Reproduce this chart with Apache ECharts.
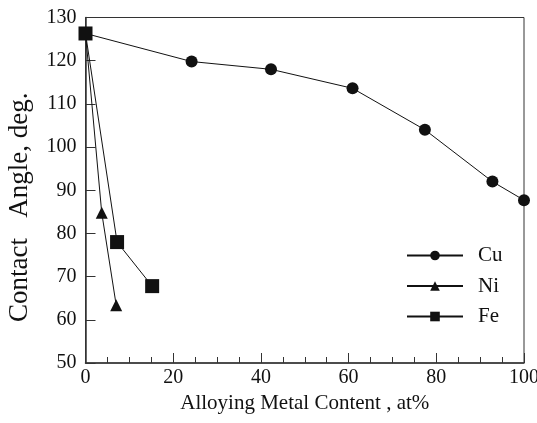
<!DOCTYPE html>
<html><head><meta charset="utf-8">
<script src="https://cdn.jsdelivr.net/npm/echarts@6/dist/echarts.min.js"></script>
<style>html,body{margin:0;padding:0;background:#fff}#c{width:537px;height:423px}</style>
</head><body><div id="c"></div>
<script>
const cuX = [0, 24.2, 42.3, 60.9, 77.4, 92.8, 100];
const cuY = [126.3, 119.8, 118.0, 113.6, 104.0, 92.0, 87.7];
const niX = [0, 3.7, 7.0];
const niY = [126.3, 84.8, 63.4];
const feX = [0, 7.2, 15.2];
const feY = [126.3, 78.0, 67.8];
const xTicks = [0, 20, 40, 60, 80, 100];
const yTicks = [50, 60, 70, 80, 90, 100, 110, 120, 130];

const font = '"Liberation Serif", "Times New Roman", serif';
const ink = '#111';
function pairs(xs, ys){ return xs.map((x,i)=>[x, ys[i]]); }

const chart = echarts.init(document.getElementById('c'), null, {renderer:'canvas'});
chart.setOption({
  animation: false,
  backgroundColor: '#fff',
  grid: {left: 85.5, right: 13, top: 17.5, bottom: 60, show: true, borderColor: '#333', borderWidth: 1,
         containLabel: false, outerBoundsMode: 'none'},
  xAxis: {
    type: 'value', min: xTicks[0], max: xTicks[xTicks.length-1], interval: 20,
    name: 'Alloying Metal Content , at%', nameLocation: 'middle', nameGap: 36,
    nameTextStyle: {fontFamily: font, fontSize: 21, color: ink, verticalAlign: 'middle'},
    axisLine: {show: true, lineStyle: {color: '#333', width: 1.5}},
    axisTick: {show: true, inside: true, length: 10, lineStyle: {color: '#333'}},
    minorTick: {show: true, splitNumber: 4, length: 6, lineStyle: {color: '#333'}},
    axisLabel: {fontFamily: font, fontSize: 20, color: ink, margin: 5},
    splitLine: {show: false}
  },
  yAxis: {
    type: 'value', min: yTicks[0], max: yTicks[yTicks.length-1], interval: 10,
    name: 'Contact   Angle, deg.', nameLocation: 'middle', nameGap: 52, nameRotate: 90,
    nameTextStyle: {fontFamily: font, fontSize: 27, color: ink, padding: [0, 34, 0, 0]},
    axisLine: {show: true, lineStyle: {color: '#333', width: 1.5}},
    axisTick: {show: true, inside: true, length: 10, lineStyle: {color: '#333'}},
    axisLabel: {fontFamily: font, fontSize: 20, color: ink, margin: 9},
    splitLine: {show: false}
  },
  legend: {
    left: 401, top: 240, orient: 'vertical', itemGap: 9.5,
    itemWidth: 56, itemHeight: 12,
    textStyle: {fontFamily: font, fontSize: 21, color: ink, padding: [0,0,0,10]},
    data: ['Cu', 'Ni', 'Fe']
  },
  series: [
    {name: 'Cu', type: 'line', data: pairs(cuX, cuY), symbol: 'circle', symbolSize: 12,
     lineStyle: {color: ink, width: 1}, itemStyle: {color: ink}},
    {name: 'Ni', type: 'line', data: pairs(niX, niY), symbol: 'triangle', symbolSize: 12,
     lineStyle: {color: ink, width: 1}, itemStyle: {color: ink}},
    {name: 'Fe', type: 'line', data: pairs(feX, feY), symbol: 'rect', symbolSize: 14,
     lineStyle: {color: ink, width: 1}, itemStyle: {color: ink}}
  ]
});
</script></body></html>
